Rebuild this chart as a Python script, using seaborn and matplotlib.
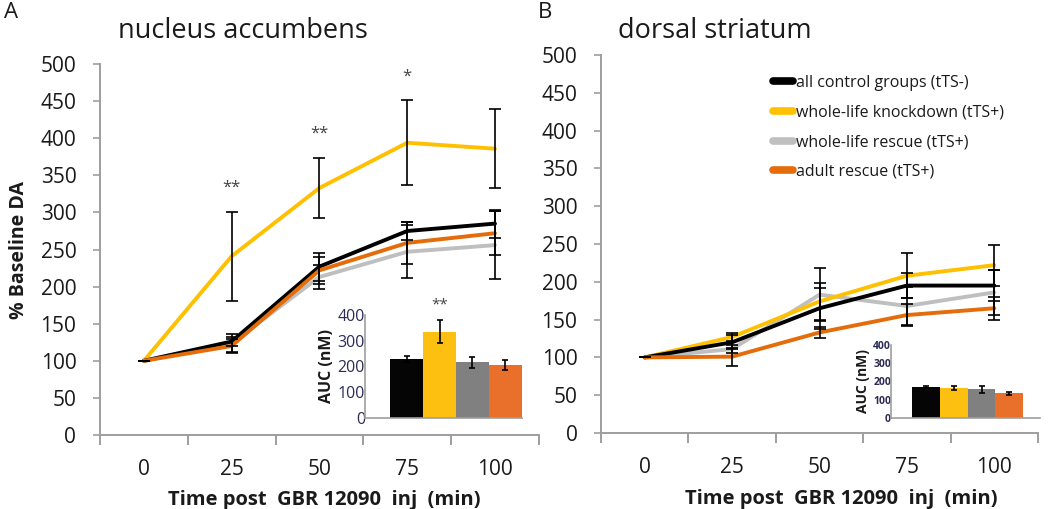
import numpy as np
import pandas as pd
import matplotlib
matplotlib.use("Agg")
import matplotlib.pyplot as plt
from matplotlib.lines import Line2D
import seaborn as sns

# ---------------- data ----------------
times = [0, 25, 50, 75, 100]
groups = ["all control groups (tTS-)", "whole-life knockdown (tTS+)",
          "whole-life rescue (tTS+)", "adult rescue (tTS+)"]
colors = ["#000000", "#FFC000", "#BFBFBF", "#E46C0A"]
bar_colors = ["#050505", "#FDC010", "#808080", "#E8702A"]

nac_control = [100, 126, 227, 275, 285]
nac_knockdown = [100, 241, 333, 394, 386]
nac_wl_rescue = [100, 124, 213, 247, 256]
nac_adult_rescue = [100, 120, 222, 259, 272]
nac_control_err = [0, 6, 19, 12, 19]
nac_knockdown_err = [0, 60, 40, 57, 53]
nac_wl_rescue_err = [0, 12, 16, 36, 46]
nac_adult_rescue_err = [0, 10, 18, 28, 30]
nac_stars = ["", "**", "**", "*", ""]

ds_control = [100, 120, 165, 195, 195]
ds_knockdown = [100, 127, 174, 208, 222]
ds_wl_rescue = [100, 111, 183, 168, 186]
ds_adult_rescue = [100, 101, 133, 156, 165]
ds_control_err = [0, 9, 27, 17, 20]
ds_knockdown_err = [0, 5, 25, 30, 27]
ds_wl_rescue_err = [0, 5, 35, 25, 30]
ds_adult_rescue_err = [0, 12, 7, 15, 15]

nac_auc = [229, 335, 216, 206]
nac_auc_err = [10, 45, 20, 20]
nac_auc_stars = ["", "**", "", ""]
ds_auc = [172, 163, 157, 135]
ds_auc_err = [5, 12, 18, 8]

# ---------------- style ----------------
sns.set_theme(style="white")
plt.rcParams["font.family"] = ["Open Sans", "DejaVu Sans"]
SPINE = "#9E9E9E"
TXT = "#1a1a1a"
NAVY = "#2b2b55"

fig = plt.figure(figsize=(10.5, 5.09), dpi=100)


def main_panel(rect, series, errs, xlabel_x):
    ax = fig.add_axes(rect)
    pos = np.arange(len(times))
    rows = []
    for g, vals in zip(groups, series):
        for p, v in zip(pos, vals):
            rows.append({"pos": p, "value": v, "group": g})
    df = pd.DataFrame(rows)
    order = [groups[2], groups[1], groups[0], groups[3]]
    sns.lineplot(data=df, x="pos", y="value", hue="group", hue_order=order,
                 palette=dict(zip(groups, colors)), linewidth=2.8,
                 legend=False, ax=ax, sort=False)
    for vals, err in zip(series, errs):
        ax.errorbar(pos, vals, yerr=err, fmt="none", ecolor="black",
                    elinewidth=1.2, capsize=4.5, capthick=1.2, zorder=5)
    ax.set_xlim(-0.5, len(times) - 0.5)
    ax.set_ylim(0, 500)
    ax.set_yticks(np.arange(0, 501, 50))
    ax.set_xticks(pos)
    ax.set_xticklabels([str(t) for t in times])
    ax.set_xticks(np.arange(-0.5, len(times), 1), minor=True)
    ax.tick_params(axis="x", which="major", length=0, pad=17, labelsize=15,
                   labelcolor=TXT)
    ax.tick_params(axis="x", which="minor", length=7, width=1.4, color=SPINE,
                   direction="out", bottom=True)
    ax.tick_params(axis="y", length=5, width=1.2, color=SPINE, direction="out",
                   left=True, pad=12, labelsize=15, labelcolor=TXT)
    for s in ["top", "right"]:
        ax.spines[s].set_visible(False)
    for s in ["left", "bottom"]:
        ax.spines[s].set_color(SPINE)
        ax.spines[s].set_linewidth(1.4)
    ax.set_xlabel("Time post  GBR 12090  inj  (min)", fontsize=14.5,
                  fontweight="bold", color=TXT, va="center")
    ax.xaxis.set_label_coords(xlabel_x, -0.175)
    ax.set_ylabel("")
    ax.set_facecolor("none")
    return ax


def inset(rect, vals, errs, xlim, tick_fs, tick_bold, lab_fs, stars=None):
    ia = fig.add_axes(rect)
    dfb = pd.DataFrame({"group": groups, "auc": vals})
    sns.barplot(data=dfb, x="group", y="auc", hue="group", order=groups,
                hue_order=groups, palette=dict(zip(groups, bar_colors)),
                width=1.0, legend=False, ax=ia, saturation=1,
                edgecolor="none", linewidth=0)
    ia.errorbar(np.arange(4), vals, yerr=errs, fmt="none", ecolor="black",
                elinewidth=1.2, capsize=2.5, capthick=1.2, zorder=5)
    if stars:
        for i, (s, v, e) in enumerate(zip(stars, vals, errs)):
            if s:
                ia.text(i, v + e + 30, s, ha="center", va="bottom",
                        fontsize=11, color="#444444", clip_on=False)
    ia.set_xlim(*xlim)
    ia.set_ylim(0, 400)
    ia.set_yticks([0, 100, 200, 300, 400])
    ia.set_xticks([])
    ia.set_xlabel("")
    ia.tick_params(axis="y", length=0, pad=0, labelsize=tick_fs,
                   labelcolor=NAVY)
    if tick_bold:
        for t in ia.get_yticklabels():
            t.set_fontweight("bold")
    for s in ["top", "right"]:
        ia.spines[s].set_visible(False)
    for s in ["left", "bottom"]:
        ia.spines[s].set_color(SPINE)
        ia.spines[s].set_linewidth(1.2)
    ia.set_ylabel("AUC (nM)", fontsize=lab_fs, fontweight="bold", color=TXT,
                  labelpad=2)
    ia.set_facecolor("white")
    return ia


# ---- Panel A ----
axA = main_panel([0.0952, 0.1454, 0.418, 0.7286],
                 [nac_control, nac_knockdown, nac_wl_rescue, nac_adult_rescue],
                 [nac_control_err, nac_knockdown_err, nac_wl_rescue_err,
                  nac_adult_rescue_err], 0.51)
for i, s in enumerate(nac_stars):
    if s:
        axA.text(i, nac_knockdown[i] + nac_knockdown_err[i] + 22, s,
                 ha="center", va="bottom", fontsize=12, color="#444444")
axA.set_ylabel("% Baseline DA", fontsize=14, fontweight="bold", color=TXT,
               labelpad=8)

# ---- Panel B ----
axB = main_panel([0.5724, 0.1493, 0.4162, 0.7427],
                 [ds_control, ds_knockdown, ds_wl_rescue, ds_adult_rescue],
                 [ds_control_err, ds_knockdown_err, ds_wl_rescue_err,
                  ds_adult_rescue_err], 0.55)
handles = [Line2D([0], [0], color=c, lw=5.5, solid_capstyle="round")
           for c in colors]
axB.legend(handles, groups, loc="upper left", bbox_to_anchor=(0.36, 0.985),
           frameon=False, fontsize=11.5, handlelength=1.3, handletextpad=0.15,
           labelspacing=0.85, labelcolor=TXT)

# ---- insets ----
inset([0.3476, 0.1788, 0.1495, 0.2024], nac_auc, nac_auc_err, (-1.26, 3.5),
      11.5, False, 11.5, stars=nac_auc_stars)
inset([0.8486, 0.1788, 0.1419, 0.1434], ds_auc, ds_auc_err, (-1.25, 4.1),
      7.5, True, 10)

# ---- titles and panel letters ----
fig.text(0.1124, 0.94, "nucleus accumbens", fontsize=19.5, color=TXT,
         ha="left", va="center")
fig.text(0.5886, 0.94, "dorsal striatum", fontsize=19.5, color=TXT,
         ha="left", va="center")
fig.text(0.004, 0.976, "A", fontsize=16, color=TXT, ha="left", va="center")
fig.text(0.512, 0.976, "B", fontsize=16, color=TXT, ha="left", va="center")

fig.savefig("out.png", dpi=100)
